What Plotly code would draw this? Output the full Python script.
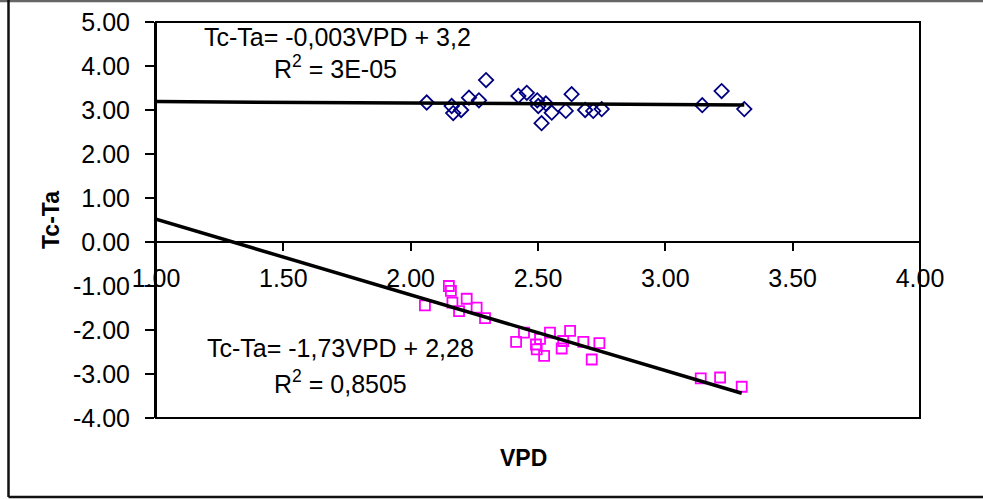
import numpy as np
import plotly.graph_objects as go

# ---- data ----
vpd_upper = [2.063, 2.161, 2.167, 2.198, 2.229, 2.268, 2.296, 2.423, 2.456, 2.497, 2.501,
             2.531, 2.514, 2.554, 2.609, 2.632, 2.685, 2.717, 2.750, 3.145, 3.221, 3.310]
tcta_upper = [3.17, 3.09, 2.93, 3.00, 3.28, 3.22, 3.68, 3.32, 3.39, 3.22, 3.09,
              3.15, 2.70, 2.94, 2.98, 3.36, 3.00, 2.98, 3.02, 3.11, 3.43, 3.02]

vpd_lower = [2.056, 2.150, 2.158, 2.164, 2.190, 2.220, 2.259, 2.292, 2.414, 2.445, 2.492,
             2.495, 2.508, 2.524, 2.547, 2.593, 2.599, 2.626, 2.678, 2.711, 2.741,
             3.139, 3.215, 3.300]
tcta_lower = [-1.44, -1.00, -1.11, -1.38, -1.57, -1.29, -1.49, -1.73, -2.27, -2.06, -2.33,
              -2.44, -2.20, -2.59, -2.06, -2.42, -2.25, -2.02, -2.27, -2.67, -2.30,
              -3.10, -3.08, -3.29]

x_range = [1.0, 4.0]
y_range = [-4.0, 5.0]
x_ticks = [1.0, 1.5, 2.0, 2.5, 3.0, 3.5, 4.0]
x_tick_labels = ["1.00", "1.50", "2.00", "2.50", "3.00", "3.50", "4.00"]
y_ticks = [5, 4, 3, 2, 1, 0, -1, -2, -3, -4]
y_tick_labels = ["5.00", "4.00", "3.00", "2.00", "1.00", "0.00",
                 "-1.00", "-2.00", "-3.00", "-4.00"]

eq_upper = ["Tc-Ta= -0,003VPD + 3,2", "R<sup>2</sup> = 3E-05"]
eq_lower = ["Tc-Ta= -1,73VPD + 2,28", "R<sup>2</sup> = 0,8505"]

FONT = "Liberation Sans, Arial, sans-serif"
FS = 25

fig = go.Figure()

fig.add_trace(go.Scatter(x=vpd_upper, y=tcta_upper, mode="markers",
                         marker=dict(symbol="diamond-open", size=11, color="#000080",
                                     line=dict(width=1.8, color="#000080")),
                         showlegend=False))
fig.add_trace(go.Scatter(x=vpd_lower, y=tcta_lower, mode="markers",
                         marker=dict(symbol="square-open", size=10, color="#FF00FF",
                                     line=dict(width=1.8, color="#FF00FF")),
                         showlegend=False))

# linear trendlines (least squares), from axis start to last data point
for xs, ys in [(vpd_upper, tcta_upper), (vpd_lower, tcta_lower)]:
    m, b = np.polyfit(xs, ys, 1)
    tx = np.array([x_range[0], max(xs)])
    fig.add_trace(go.Scatter(x=tx, y=m * tx + b, mode="lines",
                             line=dict(color="black", width=3.5), showlegend=False))

L, T, PW, PH = 156, 22, 764, 396

def px2paper(px, py):
    return (px - L) / PW, (T + PH - py) / PH

# plot frame
fig.add_shape(type="rect", xref="paper", yref="paper", x0=0, x1=1, y0=0, y1=1,
              line=dict(color="black", width=2))
# outer chart border (top, left, bottom edges visible in the picture)
for (ax, ay, bx, by, col) in [(0, 1, 983, 1, "#666666"),
                              (8.5, 0, 8.5, 497, "#111111"),
                              (8.5, 497, 983, 497, "#111111")]:
    x0, y0 = px2paper(ax, ay)
    x1, y1 = px2paper(bx, by)
    fig.add_shape(type="line", xref="paper", yref="paper", x0=x0, y0=y0, x1=x1, y1=y1,
                  line=dict(color=col, width=2.5))

ann = []
def add(text, px, py, bold=False, angle=0):
    x, y = px2paper(px, py)
    ann.append(dict(text=("<b>%s</b>" % text) if bold else text,
                    x=x, y=y, xref="paper", yref="paper",
                    xanchor="center", yanchor="middle", showarrow=False, textangle=angle,
                    font=dict(family=FONT, size=FS if not bold else 23, color="black")))

add(eq_upper[0], 337.5, 37)
add(eq_upper[1], 335, 67)
add(eq_lower[0], 340, 348)
add(eq_lower[1], 340, 382)
add("Tc-Ta", 51, 220, bold=True, angle=-90)
add("VPD", 523, 458, bold=True)

fig.update_layout(
    width=983, height=499,
    margin=dict(l=L, r=983 - L - PW, t=T, b=499 - T - PH),
    paper_bgcolor="white", plot_bgcolor="white",
    font=dict(family=FONT, size=FS, color="black"),
    annotations=ann,
    xaxis=dict(range=x_range, tickvals=x_ticks, ticktext=x_tick_labels,
               anchor="free", position=(0 - y_range[0]) / (y_range[1] - y_range[0]),
               showline=True, linecolor="black", linewidth=2,
               ticks="outside", ticklen=8, tickwidth=1.5, tickcolor="black",
               ticklabelstandoff=6, automargin=False,
               showgrid=False, zeroline=False,
               tickfont=dict(family=FONT, size=FS, color="black")),
    yaxis=dict(range=y_range, tickvals=y_ticks, ticktext=y_tick_labels,
               showline=True, linecolor="black", linewidth=2,
               ticks="outside", ticklen=9, tickwidth=1.5, tickcolor="black",
               ticklabelstandoff=10, automargin=False,
               showgrid=False, zeroline=False,
               tickfont=dict(family=FONT, size=FS, color="black")),
)

fig.write_html("out.html", config={"displayModeBar": False},
               post_script="document.body.style.margin='0';document.body.style.overflow='hidden';")
